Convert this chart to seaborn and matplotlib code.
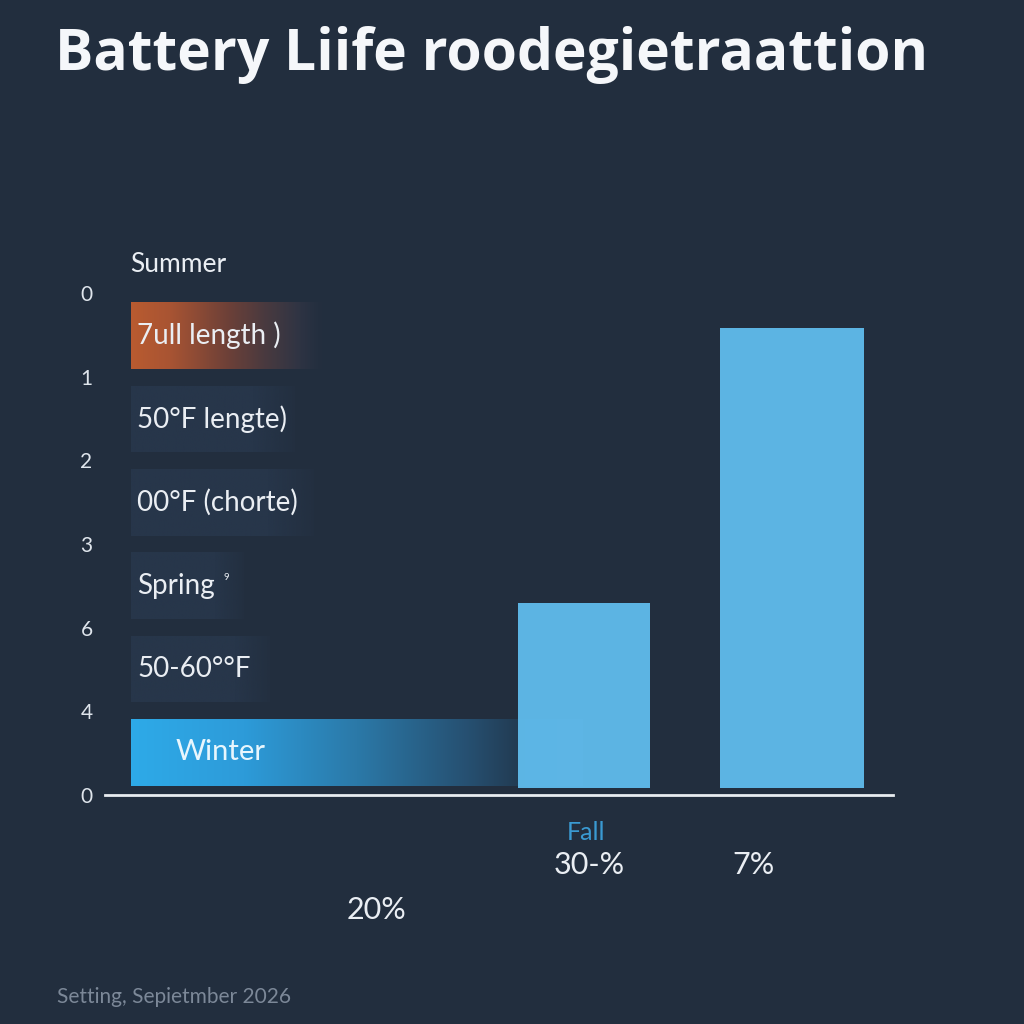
import matplotlib.pyplot as plt
import numpy as np
import pandas as pd
import seaborn as sns
from matplotlib.colors import to_rgba

# Colours
BG = "#222e3e"
BOX = "#27364a"
BAR_BLUE = "#62c0f2"
TEXT = "#eaeef3"

TITLE = "Battery Liife roodegietraattion"
FOOTER = "Setting, Sepietmber 2026"

# Left column of label boxes (top to bottom), length in % of the plot width
ROW_LABELS = ["7ull length )", "50°F lengte)", "00°F (chorte)", "Spring", "50-60°°F", "Winter"]
ROW_LENGTHS = [25.7, 21.5, 23.9, 14.7, 18.2, 59.3]

# Two vertical bars on the right: position and width (% of width), height (axis units)
VBAR_POS = [60.8, 87.2]
VBAR_WIDTHS = [16.8, 18.2]
VBAR_HEIGHTS = [2.21, 5.50]

# y axis tick labels, bottom to top (as printed)
YTICK_LABELS = ["0", "4", "6", "3", "2", "1", "0"]

# Labels under the axis
BOTTOM_LABELS = ["Fall", "30-%", "7%", "20%"]


def px_x(px):
    return px / 1024


def px_y(px):
    return 1 - px / 1024


def gradient_fill(ax, patch, stops):
    """Swap a bar's flat fill for a left-to-right gradient clipped to the bar."""
    pos = [s[0] for s in stops]
    cols = np.array([to_rgba(c, a) for _, c, a in stops])
    t = np.linspace(0, 1, 256)
    img = np.stack([np.interp(t, pos, cols[:, k]) for k in range(4)], axis=-1)[None, :, :]
    x0, y0 = patch.get_x(), patch.get_y()
    w, h = patch.get_width(), patch.get_height()
    im = ax.imshow(img, extent=[x0, x0 + w, y0 + h, y0], aspect="auto",
                   interpolation="bilinear", zorder=patch.get_zorder() + 0.1)
    im.set_clip_path(patch)
    patch.set_facecolor("none")


sns.set_theme(style="dark")
plt.rcParams["font.family"] = ["Lato", "DejaVu Sans"]

fig = plt.figure(figsize=(10.24, 10.24), dpi=100, facecolor=BG)

# Base axes: y ticks and the white baseline
ax = fig.add_axes([px_x(105), px_y(795), 788 / 1024, 502 / 1024])
ax.set_facecolor("none")
ax.set_xlim(0, 100)
ax.set_ylim(0, 6)
ax.set_xticks([])
ax.set_yticks(range(len(YTICK_LABELS)))
ax.set_yticklabels(YTICK_LABELS)
ax.tick_params(axis="y", length=0, pad=9, labelsize=15, labelcolor="#dfe5ec")
ax.grid(False)
for side in ["top", "right", "left"]:
    ax.spines[side].set_visible(False)
ax.spines["bottom"].set_color("#e8ecf0")
ax.spines["bottom"].set_linewidth(2)

# Horizontal label boxes
axh = fig.add_axes([px_x(131), px_y(794), 762 / 1024, 500 / 1024])
rows = pd.DataFrame({"label": ROW_LABELS, "length": ROW_LENGTHS})
sns.barplot(data=rows, x="length", y="label", orient="h", ax=axh, color=BOX,
            saturation=1, width=0.8, linewidth=0)
patches = list(axh.patches)
gradient_fill(axh, patches[0], [(0, "#b95b30", 1), (0.2, "#a85433", 1), (0.5, "#6c4038", 1),
                                (0.68, "#4a3a3f", 1), (0.87, "#2e3444", 1), (1, BG, 0.5)])
for p in patches[1:5]:
    gradient_fill(axh, p, [(0, BOX, 1), (0.75, BOX, 1), (1, BOX, 0.2)])
gradient_fill(axh, patches[5], [(0, "#2eaae8", 1), (0.25, "#2d9bd9", 1), (0.5, "#2b79a8", 1),
                                (0.75, "#264f70", 1), (0.86, "#223b52", 1), (1, "#27445c", 1)])
axh.set_xlim(0, 100)
axh.set_ylim(5.5, -0.5)
axh.set_axis_off()

for i, label in enumerate(ROW_LABELS[:5]):
    axh.text(0.8, i, label, va="center", ha="left", fontsize=20, color=TEXT)
axh.text(5.8, 5, ROW_LABELS[5], va="center", ha="left", fontsize=21, color="#e8f6fd")

# Vertical bars
axv = fig.add_axes([px_x(105), px_y(788), 788 / 1024, 502 / 1024])
vbars = pd.DataFrame({"pos": VBAR_POS, "height": VBAR_HEIGHTS})
sns.barplot(data=vbars, x="pos", y="height", native_scale=True, ax=axv, color=BAR_BLUE,
            saturation=1, width=0.663, linewidth=0, alpha=0.92)
for p, w in zip(axv.patches, VBAR_WIDTHS):
    centre = p.get_x() + p.get_width() / 2
    p.set_x(centre - w / 2)
    p.set_width(w)
axv.set_xlim(0, 100)
axv.set_ylim(0, 6)
axv.set_axis_off()

# Texts
fig.text(px_x(55), px_y(55), TITLE, fontsize=41, fontweight="bold", color="#f5f7fa",
         va="center", ha="left", family=["Open Sans", "DejaVu Sans"])
fig.text(px_x(130), px_y(264), "Summer", fontsize=19, color=TEXT, va="center", ha="left")
fig.text(px_x(224), px_y(577), "9", fontsize=7, color=TEXT, va="center", ha="left")

fig.text(px_x(586), px_y(833), BOTTOM_LABELS[0], fontsize=18, color="#3a9ad2",
         ha="center", va="center")
fig.text(px_x(589), px_y(865), BOTTOM_LABELS[1], fontsize=22, color=TEXT,
         ha="center", va="center")
fig.text(px_x(754), px_y(865), BOTTOM_LABELS[2], fontsize=22, color=TEXT,
         ha="center", va="center")
fig.text(px_x(377), px_y(910), BOTTOM_LABELS[3], fontsize=22, color=TEXT,
         ha="center", va="center")
fig.text(px_x(57), px_y(997), FOOTER, fontsize=15, color="#7c8898",
         ha="left", va="center")

fig.savefig("out.png", dpi=100, facecolor=BG)
